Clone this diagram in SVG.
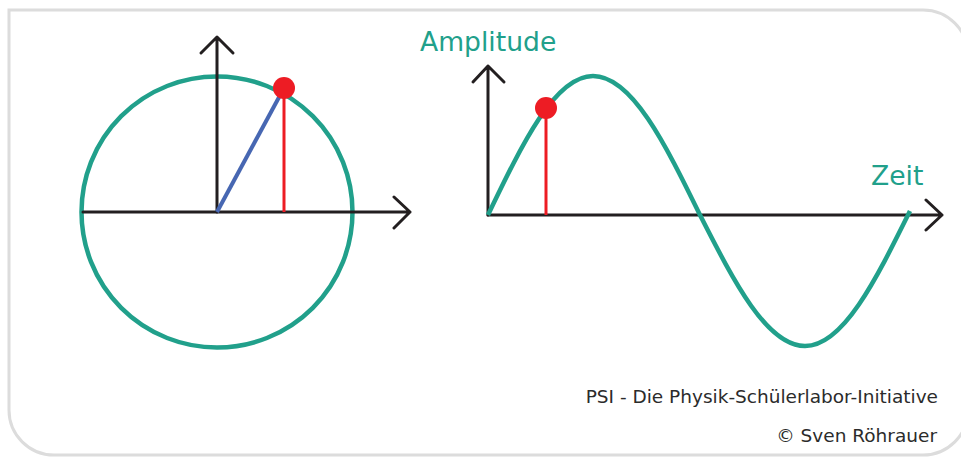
<svg xmlns="http://www.w3.org/2000/svg" width="961" height="457" viewBox="0 0 961 457">
<style>
.frame{fill:#fff;stroke:#dcdcdc;stroke-width:3}
.axis{fill:none;stroke:#231f20;stroke-width:3;stroke-linecap:round;stroke-linejoin:round}
.teal{fill:none;stroke:#21a08b;stroke-width:4.5}
.red{stroke:#ed1c24;stroke-width:3}
.dot{fill:#ed1c24}
.blue{stroke:#4767b2;stroke-width:4}
.lbl{font-family:"DejaVu Sans",Verdana,sans-serif;font-size:26.6px;fill:#21a08b}
.foot{font-family:"DejaVu Sans",Verdana,sans-serif;font-size:18.5px;fill:#2b2b2b;text-anchor:end}
</style>
<rect width="961" height="457" fill="#fff"/>
<path class="frame" d="M9 10 H923 A45 45 0 0 1 968 55 V410 A45 45 0 0 1 923 455 H54 A45 45 0 0 1 9 410 Z"/>
<g id="circle-diagram">
<circle class="teal" cx="217" cy="212" r="135.5"/>
<g id="circle-axes">
<path class="axis" d="M83 212 H410 M394 197 L410 212 L394 228"/>
<path class="axis" d="M217 212 V37 M201 53 L217 37 L233 53"/>
</g>
<line class="blue" x1="217" y1="212" x2="284" y2="88"/>
<line class="red" x1="284" y1="88" x2="284" y2="212"/>
<circle class="dot" cx="284" cy="88" r="11"/>
</g>
<g id="wave-diagram">
<g id="wave-axes">
<path class="axis" d="M488 215 H942 M926 200 L942 215 L926 230"/>
<path class="axis" d="M488 215 V66 M473 82 L488 66 L504 82"/>
</g>
<path class="teal" d="M488 215 C522.3 143.7 554.9 76 593 76 C631.8 76 665.1 143.7 700 215 C734.3 282.2 766.9 346 805 346 C843.1 346 875.7 280.2 910 211"/>
<line class="red" x1="546" y1="108" x2="546" y2="215"/>
<circle class="dot" cx="546" cy="108" r="11"/>
<text class="lbl" x="420" y="51">Amplitude</text>
<text class="lbl" x="871" y="185">Zeit</text>
</g>
<g id="footer">
<text class="foot" x="938" y="403">PSI - Die Physik-Schülerlabor-Initiative</text>
<text class="foot" x="937" y="442">© Sven Röhrauer</text>
</g>
</svg>
